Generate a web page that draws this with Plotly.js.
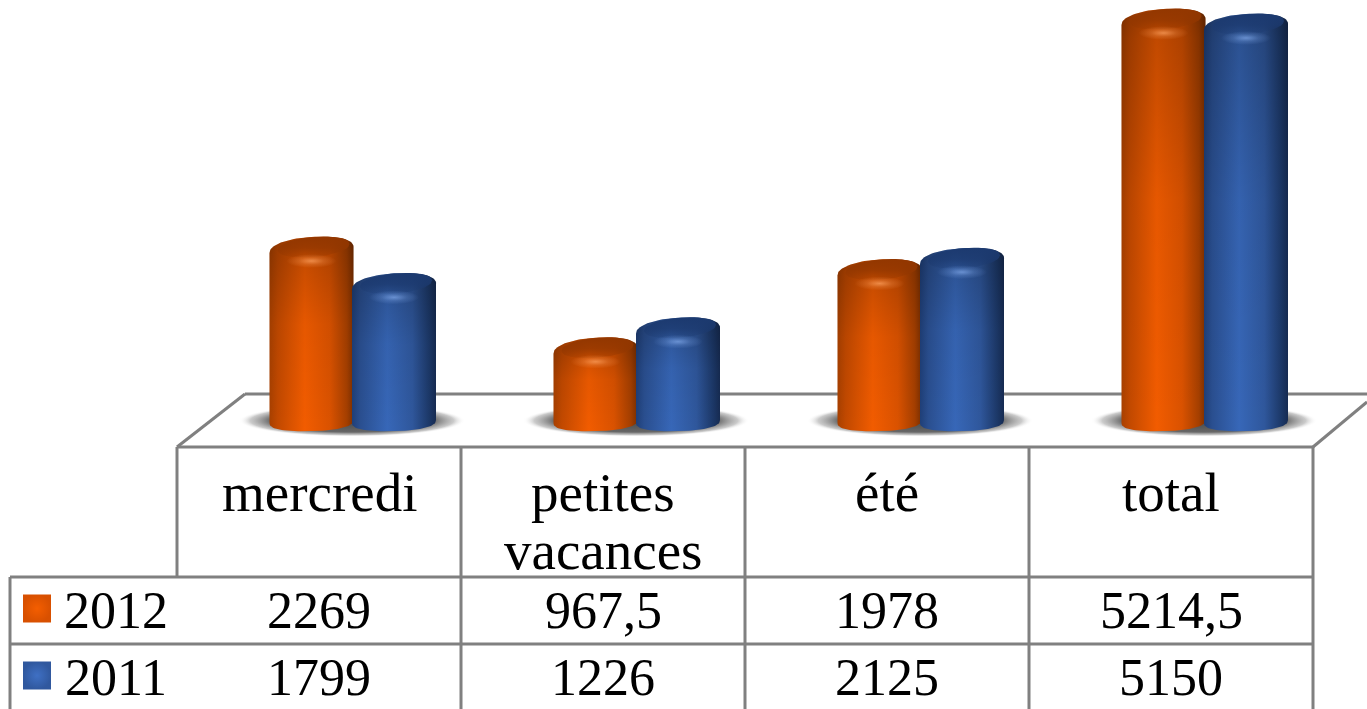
<!DOCTYPE html>
<html><head><meta charset="utf-8">
<script src="https://cdn.plot.ly/plotly-3.0.1.min.js"></script>
<style>html,body{margin:0;padding:0;background:#fff;overflow:hidden}#c{width:1367px;height:709px}</style>
</head><body><div id="c"></div>
<script>
const categories = [["mercredi"],["petites","vacances"],["été"],["total"]];
const series2012 = [2269, 967.5, 1978, 5214.5];
const series2011 = [1799, 1226, 2125, 5150];
const labels2012 = ["2269","967,5","1978","5214,5"];
const labels2011 = ["1799","1226","2125","5150"];
const seriesNames = ["2012","2011"];

const W=1367,H=709;
const colW=284, col0=319;                // px per category, px of first category centre
const pxPerUnit=0.0774, zeroPx=425.6;    // vertical scale of the value axis
const xRange=[-col0/colW,(W-col0)/colW];
const yRange=[-(H-zeroPx)/pxPerUnit, zeroPx/pxPerUnit];
const dx=p=>p/colW, dy=p=>p/pxPerUnit;
const px=p=>p/W, py=p=>1-p/H;

const shades={
 o:{body:[[0,'#a84000'],[.1,'#c24900'],[.42,'#f25c00'],[.72,'#da5200'],[.92,'#a53f00'],[1,'#7c2f00']],
    cap:'#933700',glow:'255,165,100'},
 b:{body:[[0,'#1f3f78'],[.1,'#2a4f90'],[.42,'#3767b8'],[.72,'#2f579c'],[.92,'#1c3868'],[1,'#162b52']],
    cap:'#1c3a70',glow:'130,170,235'}
};
function arc(cx,cy,hw,ry,n,tilt,from,to){ // points in px offsets converted to data units
 const xs=[],ys=[],N=48;
 for(let i=0;i<=N;i++){
  const t=from+(to-from)*i/N,c=Math.cos(t),s=Math.sin(t);
  const ex=Math.sign(c)*Math.pow(Math.abs(c),2/n), ey=Math.sign(s)*Math.pow(Math.abs(s),2/n);
  xs.push(cx+dx(hw*ex)); ys.push(cy+dy(ry*ey+tilt*c));
 }
 return [xs,ys];
}
const fillTrace=(x,y,g)=>({type:'scatter',mode:'lines',x,y,fill:'toself',line:{width:0},hoverinfo:'skip',showlegend:false,fillcolor:'rgba(0,0,0,0)',fillgradient:g});
function cylinder(cx,v,s){
 const hw=42;
 const top=arc(cx,v,hw,13,2.2,3,Math.PI,0);
 const bot=arc(cx,dy(4),hw,9.5,2.4,1.5,0,-Math.PI);
 const X=top[0].concat(bot[0]),Y=top[1].concat(bot[1]);
 const out=[];
 out.push(fillTrace(X,Y,{type:'horizontal',colorscale:s.body}));
 out.push(fillTrace(X,Y,{type:'vertical',colorscale:[[0,'rgba(0,0,0,0)'],[.55,'rgba(0,0,0,0.05)'],[.93,'rgba(0,0,0,0.2)'],[1,'rgba(0,0,0,0.28)']]}));
 const cap=arc(cx+dx(2),v+dy(3),36,10,2.1,3,0,2*Math.PI);
 out.push(fillTrace(cap[0],cap[1],{type:'vertical',colorscale:[[0,s.cap+'33'],[.45,s.cap+'cc'],[1,s.cap+'ff']]}));
 const glow=arc(cx,v-dy(11),25,7,2,0,0,2*Math.PI);
 out.push(fillTrace(glow[0],glow[1],{type:'radial',colorscale:[[0,`rgba(${s.glow},0.7)`],[.5,`rgba(${s.glow},0.25)`],[1,`rgba(${s.glow},0)`]]}));
 return out;
}
const traces=[];
categories.forEach((c,i)=>{ // contact shadows
 const sh=arc(i+dx(33),dy(5),113,16,2.2,0,0,2*Math.PI);
 traces.push(fillTrace(sh[0],sh[1],{type:'radial',colorscale:[[0,'rgba(70,70,70,1)'],[.72,'rgba(95,95,95,0.95)'],[.9,'rgba(150,150,150,0.5)'],[1,'rgba(255,255,255,0)']]}));
});
categories.forEach((c,i)=>{
 traces.push(...cylinder(i+dx(-7.5),series2012[i],shades.o));
 traces.push(...cylinder(i+dx(75),series2011[i],shades.b));
});
// legend keys
const rowPx=[610,677];
[['#f45e00','#d85000'],['#3f70c4','#30589e']].forEach((k,i)=>{
 traces.push({type:'scatter',mode:'markers',x:[dx(37-col0)],y:[(zeroPx-rowPx[i]+1.5)/pxPerUnit],hoverinfo:'skip',showlegend:false,
  marker:{symbol:'square',size:28,color:k[1],line:{width:0},gradient:{type:'radial',color:k[0]}}});
});

const F={family:'"Liberation Serif",serif',size:52,color:'#000'};
const FC={family:'"Liberation Serif",serif',size:55,color:'#000'};
const txt=(x,y,t,f)=>({xref:'paper',yref:'paper',x:px(x),y:py(y),text:t,showarrow:false,xanchor:'center',yanchor:'middle',font:f||F});
const ann=[];
categories.forEach((c,i)=>{
 c.forEach((ln,j)=>ann.push(txt(col0+i*colW,492+j*58,ln,FC)));
 ann.push(txt(col0+i*colW,rowPx[0],labels2012[i]));
 ann.push(txt(col0+i*colW,rowPx[1],labels2011[i]));
});
seriesNames.forEach((n,i)=>ann.push(txt(116,rowPx[i],n)));

const G={color:'#808080',width:3};
const ln=(x0,y0,x1,y1)=>({type:'line',xref:'paper',yref:'paper',x0:px(x0),y0:py(y0),x1:px(x1),y1:py(y1),line:G,layer:'below'});
const shapes=[ln(177,447,245,394),ln(245,394,1367,394),ln(1313,447,1367,402),ln(177,447,1313,447),
 ln(177,447,177,577),ln(461,447,461,709),ln(745,447,745,709),ln(1029,447,1029,709),ln(1313,447,1313,709),
 ln(10,577,1313,577),ln(10,644,1313,644),ln(10,577,10,709)];

Plotly.newPlot('c',traces,{
 width:W,height:H,margin:{l:0,r:0,t:0,b:0,pad:0},paper_bgcolor:'#fff',plot_bgcolor:'#fff',showlegend:false,
 xaxis:{range:xRange,visible:false,fixedrange:true},
 yaxis:{range:yRange,visible:false,fixedrange:true},
 shapes,annotations:ann
},{displayModeBar:false,staticPlot:true});
</script></body></html>
